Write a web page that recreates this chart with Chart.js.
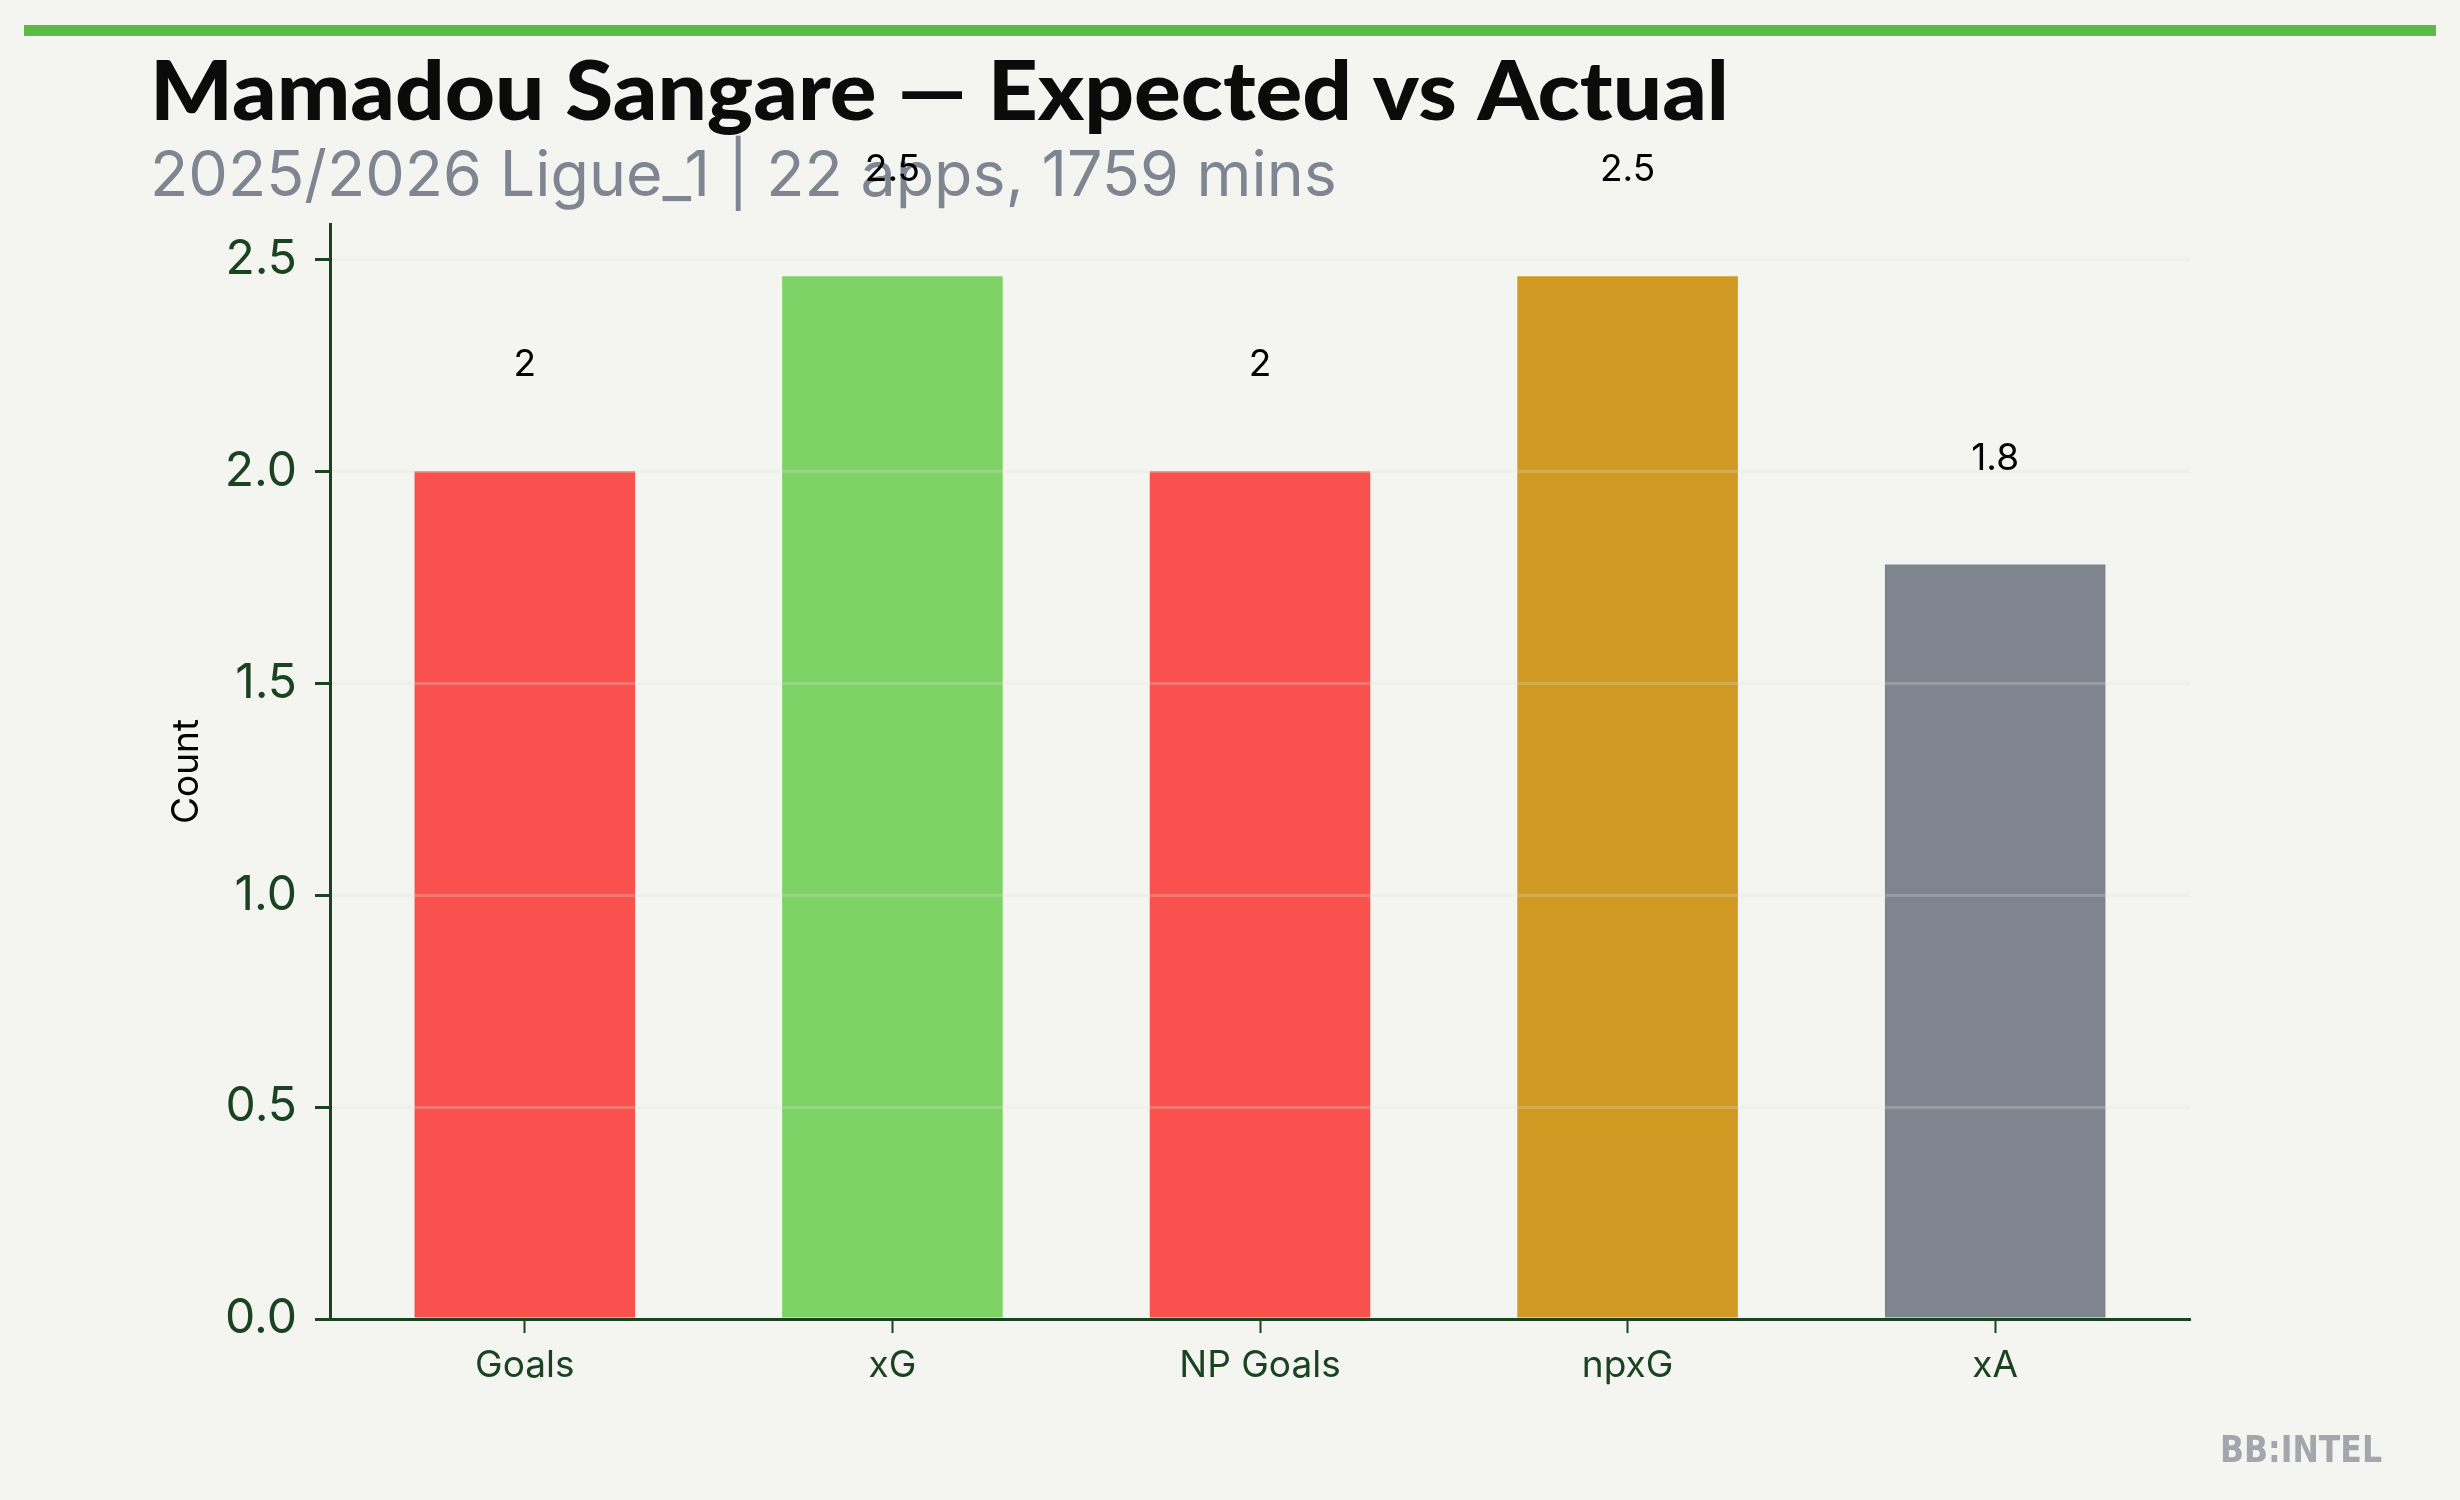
<!DOCTYPE html>
<html><head><meta charset="utf-8">
<script src="https://cdn.jsdelivr.net/npm/chart.js@4.4.1/dist/chart.umd.min.js"></script>
<style>html,body{margin:0;padding:0;background:#f4f5f0;}canvas{display:block;}</style>
</head><body>
<canvas id="c" width="2460" height="1500" style="width:2460px;height:1500px"></canvas>
<script>
const titleText = 'Mamadou Sangare — Expected vs Actual';
const subtitleText = '2025/2026 Ligue_1 | 22 apps, 1759 mins';
const categories = ['Goals', 'xG', 'NP Goals', 'npxG', 'xA'];
const values = [2, 2.46, 2, 2.46, 1.78];
const barColors = ['#f9524e', '#7dd366', '#f9524e', '#d09922', '#7f858f'];
const yAxisTitle = 'Count';
const watermark = 'BB:INTEL';
const yMax = 2.583;
const yStep = 0.5;
const labelOffset = 0.25;

const AXIS = '#1b4322';

function fitText(ctx, text, font, color, x, y, w) {
  ctx.save();
  ctx.font = font;
  const m = ctx.measureText(text).width;
  ctx.translate(x, y);
  ctx.scale(w / m, 1);
  ctx.fillStyle = color;
  ctx.textAlign = 'left';
  ctx.textBaseline = 'alphabetic';
  ctx.fillText(text, 0, 0);
  ctx.restore();
}

const decor = {
  id: 'decor',
  beforeDraw(chart) {
    const ctx = chart.ctx;
    ctx.save();
    ctx.fillStyle = '#f4f5f0';
    ctx.fillRect(0, 0, chart.width, chart.height);
    ctx.fillStyle = '#5cba47';
    ctx.fillRect(24, 25, 2412, 11);
    ctx.restore();
    fitText(ctx, titleText, '900 81px Lato', '#0b0b0b', 150, 120, 1579);
    fitText(ctx, subtitleText, '400 63px Inter', '#7f8692', 150, 196, 1187);
  },
  afterDraw(chart) {
    const ctx = chart.ctx;
    const meta = chart.getDatasetMeta(0);
    const ys = chart.scales.y;
    ctx.save();
    ctx.font = '400 37px Inter';
    ctx.fillStyle = '#000000';
    ctx.textAlign = 'center';
    ctx.textBaseline = 'middle';
    meta.data.forEach((bar, i) => {
      const v = values[i];
      const txt = String(Number(v.toFixed(1)));
      ctx.fillText(txt, bar.x, ys.getPixelForValue(v + labelOffset));
    });
    ctx.restore();
    fitText(ctx, watermark, '700 38px "DejaVu Sans Condensed"', '#a3a7ad', 2220, 1462, 162);
  }
};

function build() {
  new Chart(document.getElementById('c'), {
    type: 'bar',
    data: {
      datasets: [{
        data: values.map((v, i) => ({ x: i, y: v })),
        backgroundColor: barColors,
        borderWidth: 0,
        barPercentage: 0.6,
        categoryPercentage: 1.0
      }]
    },
    options: {
      responsive: false,
      devicePixelRatio: 1,
      animation: false,
      layout: { padding: { left: 0, top: 224, right: 270, bottom: 0 } },
      plugins: { legend: { display: false }, title: { display: false }, tooltip: { enabled: false } },
      scales: {
        x: {
          type: 'linear',
          min: -0.53,
          max: 4.53,
          offset: false,
          afterFit(s) { s.height = 181; },
          border: { display: true, color: AXIS, width: 3, z: 2 },
          grid: { offset: false, drawOnChartArea: false, drawTicks: true, tickLength: 14, tickColor: AXIS, tickWidth: 2 },
          ticks: {
            stepSize: 1,
            includeBounds: false,
            autoSkip: false,
            maxRotation: 0,
            padding: 11,
            color: AXIS,
            font: { family: 'Inter', size: 37 },
            callback: (v) => (categories[v] !== undefined ? categories[v] : '')
          }
        },
        y: {
          min: 0,
          max: yMax,
          afterFit(s) { s.width = 330; },
          border: { display: true, color: AXIS, width: 3, z: 2 },
          grid: { z: 1, color: 'rgba(226,226,220,0.25)', lineWidth: 3, drawTicks: true, tickLength: 15, tickColor: AXIS, tickWidth: 3 },
          ticks: {
            stepSize: yStep,
            includeBounds: false,
            padding: 18,
            color: AXIS,
            font: { family: 'Inter', size: 48 },
            callback: (v) => Number(v).toFixed(1)
          },
          title: {
            display: true,
            text: yAxisTitle,
            color: '#000000',
            font: { family: 'Inter', size: 37 },
            padding: { top: 165, bottom: 0 }
          }
        }
      }
    },
    plugins: [decor]
  });
}

Promise.all([
  document.fonts.load('900 81px Lato'),
  document.fonts.load('400 63px Inter'),
  document.fonts.load('700 38px "DejaVu Sans Condensed"')
]).then(build, build);
</script>
</body></html>
